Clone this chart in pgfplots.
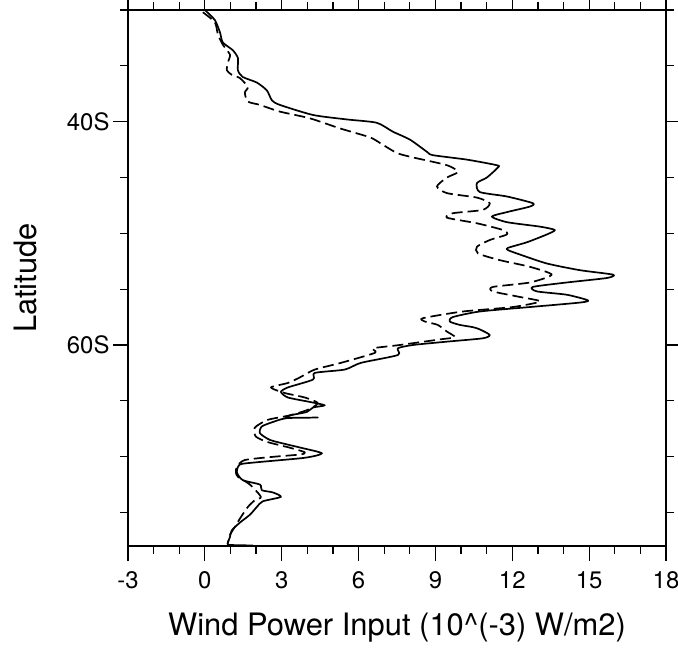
\documentclass[border=0pt]{standalone}
\usepackage{pgfplots}
\pgfplotsset{compat=1.18}
\usepackage{pgfplotstable}
\usepackage{fontspec}
\setmainfont{TeX Gyre Heros}
\usetikzlibrary{calc}

% x = wind power input (1e-3 W/m2), y = latitude (negative = south)
\pgfplotstableread{
x y
0.00 -30.0
0.39 -30.9
0.59 -32.0
0.70 -32.9
1.09 -33.6
1.29 -34.3
1.29 -35.4
1.48 -36.0
2.03 -36.5
2.42 -37.2
2.62 -38.1
2.93 -38.5
4.22 -39.4
5.54 -39.8
6.71 -40.1
7.34 -40.9
8.00 -41.6
8.67 -42.7
8.90 -43.0
10.23 -43.4
11.40 -43.9
11.44 -44.1
11.01 -45.0
10.62 -45.5
10.73 -46.3
11.79 -46.7
12.80 -47.3
12.69 -47.6
11.79 -48.1
11.20 -48.5
11.79 -49.0
13.08 -49.4
13.66 -49.7
13.35 -50.1
12.57 -50.8
11.83 -51.3
11.83 -51.5
12.30 -51.9
13.35 -52.7
14.64 -53.3
15.93 -53.7
15.69 -54.0
14.13 -54.4
12.80 -54.8
12.96 -55.2
14.13 -55.5
14.95 -56.0
14.64 -56.2
12.69 -56.6
10.73 -57.0
9.68 -57.5
9.56 -57.9
9.95 -58.2
10.46 -58.4
10.73 -58.6
11.12 -59.1
10.85 -59.4
9.45 -59.7
8.12 -60.0
7.53 -60.3
7.53 -60.9
6.09 -61.6
5.46 -62.2
4.29 -62.5
4.22 -63.1
3.24 -63.8
2.97 -64.2
3.24 -64.7
4.10 -65.1
4.68 -65.4
4.22 -65.6
3.98 -66.0
3.32 -66.3
3.20 -66.5
4.41 -66.5
3.20 -66.55
2.65 -66.9
2.22 -67.3
2.15 -67.9
2.54 -68.5
3.20 -68.9
3.75 -69.2
4.57 -69.7
3.90 -70.1
2.03 -70.5
1.37 -70.7
1.25 -71.4
1.48 -72.1
2.15 -72.5
2.22 -73.0
2.65 -73.2
2.97 -73.6
2.26 -74.0
2.03 -74.5
1.76 -75.2
1.37 -75.9
1.05 -76.6
0.98 -77.2
0.90 -77.7
0.95 -77.9
1.87 -77.95
}\solidtab

\pgfplotstableread{
x y
-0.08 -30.2
0.39 -31.1
0.51 -32.2
0.70 -33.1
0.98 -34.0
0.90 -34.7
0.86 -35.4
1.05 -35.8
1.37 -36.1
1.68 -36.9
1.56 -37.4
1.68 -38.2
2.15 -38.5
2.93 -39.1
4.10 -39.7
5.27 -40.6
6.44 -41.4
6.83 -41.9
7.49 -42.8
8.12 -43.2
9.45 -43.9
9.88 -44.5
9.45 -45.0
9.06 -45.8
9.45 -46.4
10.62 -46.8
11.12 -47.3
10.85 -47.9
9.68 -48.2
9.45 -48.6
10.62 -49.1
11.63 -49.7
11.79 -50.1
11.12 -50.6
10.62 -51.2
10.66 -51.8
11.51 -52.4
12.69 -53.0
13.54 -53.7
12.69 -54.4
11.24 -54.8
11.24 -55.2
12.30 -55.7
13.08 -56.1
12.02 -56.6
10.07 -57.0
8.51 -57.6
8.59 -57.9
9.09 -58.2
9.45 -58.8
9.76 -59.3
9.17 -59.5
7.61 -60.0
6.56 -60.3
6.64 -60.7
5.31 -61.6
4.29 -62.2
3.71 -62.9
3.24 -63.4
2.58 -63.8
3.12 -64.3
3.90 -64.7
4.41 -65.2
4.02 -65.8
3.32 -66.3
2.46 -66.7
1.95 -67.4
1.99 -68.2
2.46 -68.7
3.32 -69.2
3.90 -69.6
3.75 -69.8
2.73 -70.0
1.56 -70.3
1.25 -70.9
1.21 -71.4
1.29 -71.8
1.76 -72.5
2.19 -73.6
1.95 -73.9
1.68 -74.5
1.41 -75.4
1.17 -76.3
0.98 -77.0
0.90 -77.7
}\dashtab

\begin{document}
\begin{tikzpicture}
\begin{axis}[
  scale only axis,
  width=538bp, height=536bp,
  xmin=-3, xmax=18, ymin=-78, ymax=-30,
  xtick={-3,0,3,6,9,12,15,18},
  xticklabels={-3,0,3,6,9,12,15,18},
  minor x tick num=2,
  ytick={-60,-40},
  yticklabels={60S,40S},
  minor ytick={-75,-70,-65,-55,-50,-45,-35,-30},
  tick align=outside,
  xtick align=outside, ytick align=outside,
  major tick length=15bp,
  minor tick length=8bp,
  every tick/.style={black, line width=1.2bp},
  axis line style={line width=1.6bp},
  tick label style={font=\fontsize{24}{28}\selectfont},
  xticklabel style={yshift=-7bp},
  label style={font=\fontsize{31}{36}\selectfont},
  xlabel={Wind Power Input (10\^{}(-3) W/m2)},
  ylabel={Latitude},
  xlabel style={at={(axis description cs:0.5,-0.153)}, anchor=center},
  ylabel style={at={(axis description cs:-0.191,0.5)}, anchor=center},
  clip=false,
]
\addplot[black, line width=1.7bp, line join=round, smooth, tension=0.4] table[x=x,y=y] {\solidtab};
\addplot[black, line width=1.7bp, line join=round, smooth, tension=0.4, dash pattern=on 11bp off 5bp] table[x=x,y=y] {\dashtab};
\end{axis}
\pgfresetboundingbox
\path[use as bounding box] ($(current axis.south west)+(-128bp,-105bp)$) rectangle ($(current axis.north east)+(12bp,10bp)$);
\end{tikzpicture}
\end{document}
